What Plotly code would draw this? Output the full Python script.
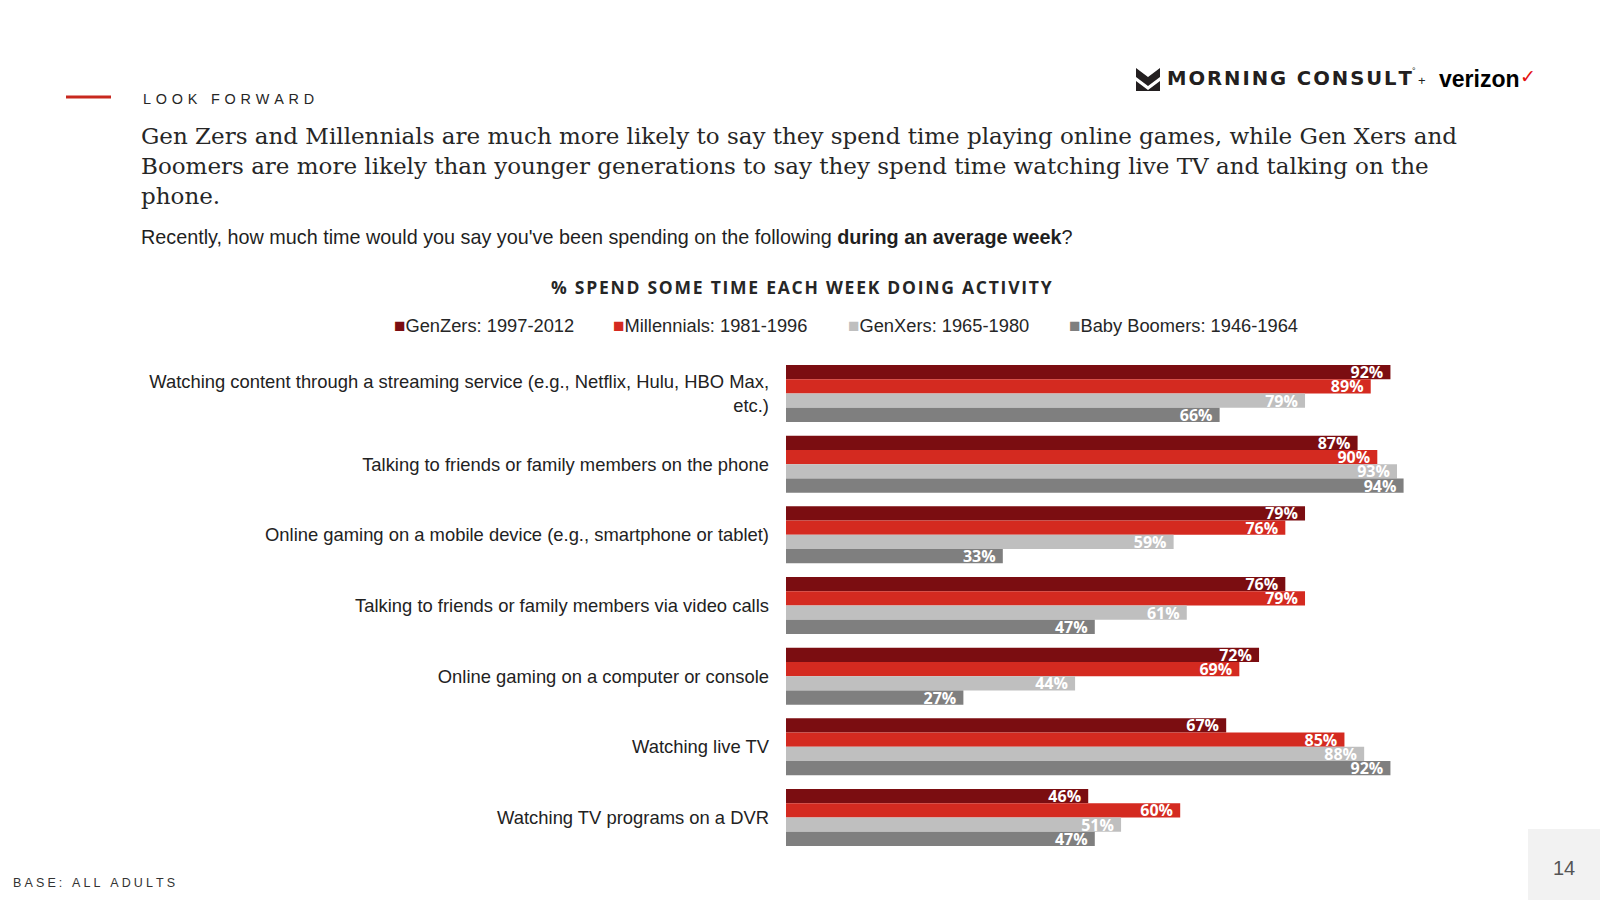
import plotly.graph_objects as go

# chart data
categories = [
    "Watching content through a streaming service (e.g., Netflix, Hulu, HBO Max,<br>etc.)",
    "Talking to friends or family members on the phone",
    "Online gaming on a mobile device (e.g., smartphone or tablet)",
    "Talking to friends or family members via video calls",
    "Online gaming on a computer or console",
    "Watching live TV",
    "Watching TV programs on a DVR",
]
series_names = [
    "GenZers: 1997-2012",
    "Millennials: 1981-1996",
    "GenXers: 1965-1980",
    "Baby Boomers: 1946-1964",
]
genz = [92, 87, 79, 76, 72, 67, 46]
millennials = [89, 90, 76, 79, 69, 85, 60]
genx = [79, 93, 59, 61, 44, 88, 51]
boomers = [66, 94, 33, 47, 27, 92, 47]
series_values = [genz, millennials, genx, boomers]
colors = ["#7B0D11", "#D42A20", "#BFBFBF", "#7F7F7F"]

W, H = 1600, 900


def px(x):
    return x / W


def py(y):
    return 1 - y / H


def spaced(s, sep="\u2009"):
    return sep.join(list(s))


fig = go.Figure()
for name, vals, col in zip(series_names, series_values, colors):
    fig.add_trace(go.Bar(
        y=categories, x=vals, name=name, orientation="h",
        marker=dict(color=col, line=dict(width=0)),
        text=[f"{v}%\u00a0" for v in vals],
        textposition="inside", insidetextanchor="end", textangle=0,
        constraintext="none",
        textfont=dict(family="Open Sans", size=16, color="white", weight="bold"),
        hoverinfo="skip",
    ))

fig.update_layout(
    width=W, height=H,
    margin=dict(l=0, r=0, t=0, b=0, autoexpand=False),
    paper_bgcolor="white", plot_bgcolor="white",
    barmode="group", bargap=0.193, bargroupgap=0,
    font=dict(family="Liberation Sans", color="#222222"),
    showlegend=False,
    xaxis=dict(
        domain=[px(786), px(1443)], range=[0, 100], visible=False, fixedrange=True,
    ),
    yaxis=dict(
        domain=[py(852.8), py(358.2)], autorange="reversed", showgrid=False,
        showline=False, zeroline=False, ticks="", ticklabelstandoff=16,
        tickfont=dict(size=18.4, color="#222222"), automargin=False, fixedrange=True,
    ),
)

shapes = [
    # red accent line
    dict(type="line", xref="paper", yref="paper", x0=px(66), x1=px(111),
         y0=py(97), y1=py(97), line=dict(color="#C8281E", width=3)),
    # page number box
    dict(type="rect", xref="paper", yref="paper", x0=px(1528), x1=1,
         y0=0, y1=py(829), fillcolor="#F2F2F2", line=dict(width=0), layer="below"),
]

# logo mark
ox, oy = 1136, 68


def path(points):
    return "M " + " L ".join(f"{px(ox + a)},{py(oy + b)}" for a, b in points) + " Z"


shapes.append(dict(type="path", xref="paper", yref="paper",
                   path=path([(0, 0), (12, 9), (24, 0), (24, 9), (12, 18), (0, 9)]),
                   fillcolor="#231F20", line=dict(width=0)))
shapes.append(dict(type="path", xref="paper", yref="paper",
                   path=path([(0, 13), (12, 22), (24, 13), (24, 23), (0, 23)]),
                   fillcolor="#231F20", line=dict(width=0)))

annotations = [
    dict(text=spaced("LOOK FORWARD", "\u2004"), x=px(141), y=py(99),
         font=dict(size=14.4, color="#262626")),
    dict(text=("Gen Zers and Millennials are much more likely to say they spend time playing online games, while Gen Xers and<br>"
               "Boomers are more likely than younger generations to say they spend time watching live TV and talking on the<br>"
               "phone."),
         x=px(139), y=py(121), yanchor="top", align="left",
         font=dict(family="DejaVu Serif", size=23, color="#262626")),
    dict(text="Recently, how much time would you say you've been spending on the following <b>during an average week</b>?",
         x=px(139), y=py(237), font=dict(size=19.8, color="#1F1F1F")),
    dict(text="<b>" + spaced("% SPEND SOME TIME EACH WEEK DOING ACTIVITY", "\u200a") + "</b>",
         x=px(801), y=py(287), xanchor="center",
         font=dict(family="Open Sans", size=17.5, color="#262626")),
    dict(text=spaced("BASE: ALL ADULTS", "\u2005"), x=px(11), y=py(883),
         font=dict(size=12.5, color="#333333")),
    dict(text="14", x=px(1564), y=py(868), xanchor="center",
         font=dict(size=20, color="#555555")),
    dict(text="<b>" + spaced("MORNING CONSULT", "\u200a") + "</b>", x=px(1165), y=py(79),
         font=dict(family="DejaVu Sans", size=19.6, color="#231F20")),
    dict(text="°", x=px(1410), y=py(71), font=dict(size=9, color="#231F20")),
    dict(text="+", x=px(1422), y=py(80), xanchor="center", font=dict(size=13, color="#231F20")),
    dict(text="<b>verizon</b>", x=px(1437), y=py(79),
         font=dict(family="Liberation Sans", size=23, color="#000000")),
    dict(text="✓", x=px(1518), y=py(76),
         font=dict(family="DejaVu Sans", size=19, color="#E4100E")),
]

# legend built from the series names and colours
legend_x = [392, 611, 846, 1067]
for lx, name, col in zip(legend_x, series_names, colors):
    annotations.append(dict(
        text=f'<span style="font-size:19px;color:{col}">■</span>{name}',
        x=px(lx), y=py(325), font=dict(size=18.3, color="#262626"),
    ))

for a in annotations:
    a.setdefault("xref", "paper")
    a.setdefault("yref", "paper")
    a.setdefault("xanchor", "left")
    a.setdefault("yanchor", "middle")
    a.setdefault("showarrow", False)

fig.update_layout(shapes=shapes, annotations=annotations)

fig.write_html("out.html", config={"displayModeBar": False},
               post_script="document.body.style.margin='0';")
